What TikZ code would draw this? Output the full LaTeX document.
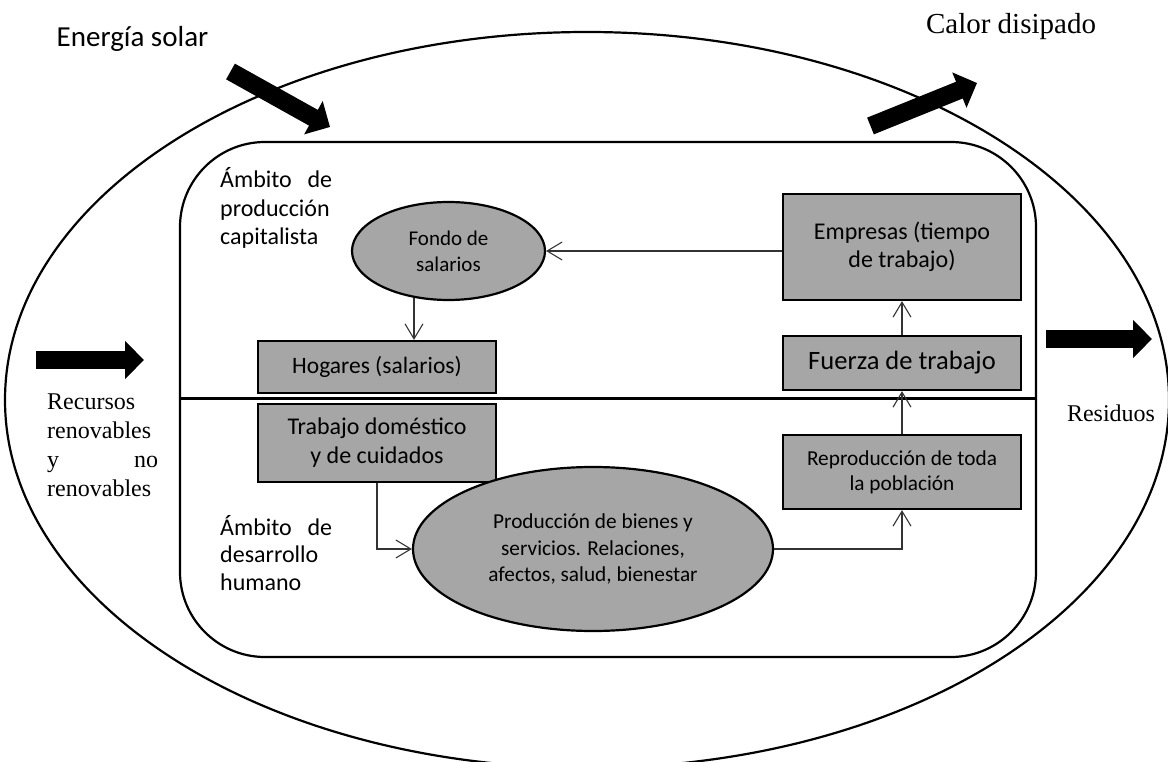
\documentclass[tikz,border=0pt]{standalone}
\usepackage{fontspec}
\setmainfont{Carlito}
\newfontfamily\romanfont{Liberation Serif}
\usetikzlibrary{shapes.geometric,arrows.meta}

\begin{document}
\begin{tikzpicture}[
        x=1pt, y=-1pt,
        box/.style={draw, fill=gray!70, line width=2.2pt, minimum width=238pt, inner sep=0pt, align=center},
        blob/.style={ellipse, draw, fill=gray!70, line width=2.2pt, inner sep=0pt, align=center},
        flow/.style={line width=1.1pt, draw=black!80, -{Straight Barb[length=15pt,width=18pt]}},
        bigarrow/.style={line width=18pt, -{Triangle[length=19pt,width=37pt]}},
        lbl/.style={inner sep=0pt, align=left, anchor=west}
      ]
      \useasboundingbox (0,0) rectangle (1168,762);

      % sistema y ambito
      \node[ellipse, draw, line width=2.2pt, minimum width=1164pt, minimum height=736pt] (tierra) at (587,400) {};
      \node[draw, line width=2.2pt, rounded corners=85pt, minimum width=856pt, minimum height=515pt] (ambito) at (608,399.5) {};
      \draw[line width=3.5pt] ([yshift=1pt]ambito.west) -- ([yshift=1pt]ambito.east);

      % flujos de energia y materiales
      \coordinate (solar0) at (230.5,71.5);
      \coordinate (solar1) at (330,127);
      \coordinate (calor0) at (870.5,126);
      \coordinate (calor1) at (977,83);
      \coordinate (recursos0) at (36,360);
      \coordinate (recursos1) at (144,360);
      \coordinate (residuos0) at (1046,339);
      \coordinate (residuos1) at (1152,339);
      \draw[bigarrow] (solar0) -- (solar1);
      \draw[bigarrow] (calor0) -- (calor1);
      \draw[bigarrow] (recursos0) -- (recursos1);
      \draw[bigarrow] (residuos0) -- (residuos1);

      \node[inner sep=0pt, font=\fontsize{29}{34}\selectfont] (solar) at (132.5,39) {Energía solar};
      \node[inner sep=0pt, font=\romanfont\fontsize{29}{34}\selectfont] (calor) at (1011,27) {Calor disipado};
      \node[lbl, font=\romanfont\fontsize{24}{29}\selectfont] (recursos) at (47,445.5)
        {Recursos\\renovables\\\makebox[111pt][l]{y\hfill no}\\renovables};
      \node[inner sep=0pt, font=\romanfont\fontsize{24}{29}\selectfont] (residuos) at (1111,413) {Residuos};

      \node[lbl, font=\fontsize{24}{28.5}\selectfont] (capital) at (220,208)
        {\makebox[112pt][l]{Ámbito\hfill de}\\producción\\capitalista};
      \node[lbl, font=\fontsize{24}{27.5}\selectfont] (humano) at (220,553)
        {\makebox[112pt][l]{Ámbito\hfill de}\\desarrollo\\humano};

      % nodos
      \node[blob, minimum width=193pt, minimum height=98pt, font=\fontsize{21}{26}\selectfont] (fondo) at (448.5,251) {Fondo de\\salarios};
      \node[box, minimum height=52pt, font=\fontsize{23.5}{28}\selectfont] (hogares) at (377,367) {Hogares (salarios)};
      \node[box, minimum height=78pt, font=\fontsize{24}{29}\selectfont] (trabajo) at (377,443) {Trabajo doméstico\\y de cuidados};
      \node[blob, minimum width=360pt, minimum height=164pt, font=\fontsize{21.3}{26.5}\selectfont] (produccion) at (593,549)
        {Producción de bienes y\\servicios. Relaciones,\\afectos, salud, bienestar};
      \node[box, minimum height=106pt, font=\fontsize{24}{28}\selectfont] (empresas) at (902,247) {Empresas (tiempo\\de trabajo)};
      \node[box, minimum height=54pt, font=\fontsize{26.5}{30}\selectfont] (fuerza) at (902,363) {Fuerza de trabajo};
      \node[box, minimum height=74pt, font=\fontsize{21.3}{25}\selectfont] (reproduccion) at (902,472) {Reproducción de toda\\la población};

      % conexiones
      \draw[flow] (fondo.east -| empresas.west) -- (fondo.east);
      \draw[flow] ([xshift=37pt]hogares.north |- 0,298) -- ([xshift=37pt]hogares.north);
      \draw[flow] (trabajo.south) |- (produccion.west);
      \draw[flow] (produccion.east) -| (reproduccion.south);
      \draw[flow] (reproduccion.north) -- (fuerza.south);
      \draw[flow] (fuerza.north) -- (empresas.south);
    \end{tikzpicture}
\end{document}
